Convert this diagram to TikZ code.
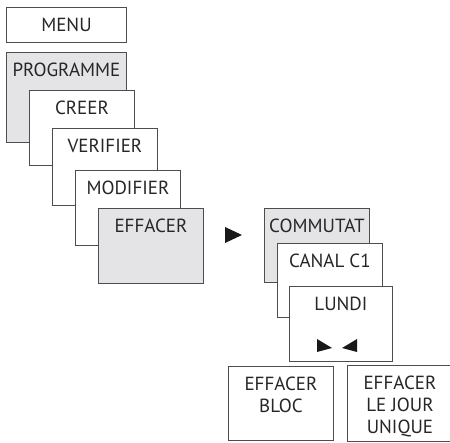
\documentclass[tikz,border=0pt]{standalone}
\usepackage{fontspec}
\setmainfont{PT Sans}
\usetikzlibrary{positioning}
\definecolor{framegray}{HTML}{4D4D4D}
\definecolor{panelgray}{HTML}{E4E4E6}
\tikzset{%
	screen/.style  = {draw=framegray, line width=0.9pt, fill=white, rectangle, anchor=north west, inner sep=0pt, minimum width=105pt, minimum height=75pt},
	shaded/.style  = {screen, fill=panelgray},
	caption/.style = {anchor=north, inner sep=0pt, label distance=-11pt, align=center, font=\fontsize{19}{22}\selectfont, text=black!85},
	pointer/.style = {fill=black!90},
}
\begin{document}
\begin{tikzpicture}[x=1pt, y=-1pt]
		\useasboundingbox (0,0) rectangle (450,443);
		\clip (0,0) rectangle (450,443);
		% left cascade
		\node[screen, minimum width=120pt, minimum height=35pt, label={[caption]90:MENU}] (menu) at (6,7) {};
		\node[shaded, minimum width=120pt, minimum height=90pt, label={[caption]90:PROGRAMME}] (prog) at (6,52) {};
		\node[screen, label={[caption]90:CREER}] (creer) at ([xshift=23pt,yshift=-38pt]prog.north west) {};
		\node[screen, minimum height=77pt, label={[caption]90:VERIFIER}] (verif) at ([xshift=23pt,yshift=-38pt]creer.north west) {};
		\node[screen, label={[caption]90:MODIFIER}] (modif) at ([xshift=23pt,yshift=-42pt]verif.north west) {};
		\node[shaded, label={[caption]90:EFFACER}] (effacer) at ([xshift=23pt,yshift=-38pt]modif.north west) {};
		
		\fill[pointer] (225,227) -- (242,235) -- (225,243) -- cycle;
		
		% right cascade
		\node[shaded, minimum height=74pt, label={[caption]90:COMMUTAT}] (commut) at (264,208) {};
		\node[screen, minimum height=74pt, label={[caption]90:CANAL C1}] (canal) at ([xshift=13pt,yshift=-35pt]commut.north west) {};
		\node[screen, minimum width=103pt, label={[caption]90:LUNDI}] (lundi) at ([xshift=12pt,yshift=-43pt]canal.north west) {};
		\fill[pointer] (317,339) -- (332,348) -- (317,352) -- cycle;
		\fill[pointer] (357,339) -- (342,348) -- (357,352) -- cycle;
		
		\node[screen, minimum height=74pt, label={[caption]90:EFFACER\\BLOC}] (bloc) at (228,366) {};
		\node[screen, minimum height=76pt, label={[caption]90:EFFACER\\LE JOUR\\UNIQUE}] (jour) at (347,365) {};
\end{tikzpicture}
\end{document}
